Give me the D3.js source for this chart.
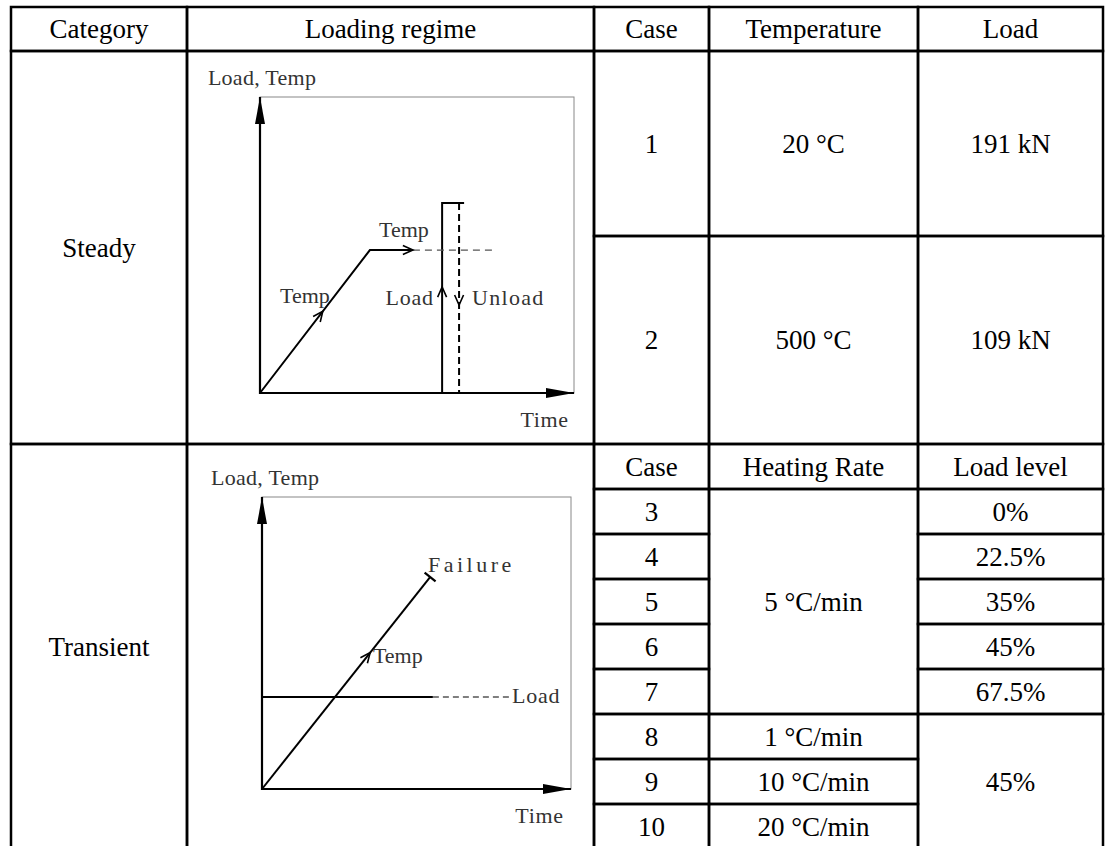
<!DOCTYPE html>
<html>
<head>
<meta charset="utf-8">
<script src="https://cdn.jsdelivr.net/npm/d3@7"></script>
<style>
  body { margin: 0; background: #fff; }
</style>
</head>
<body>
<div id="graphContainer"></div>
<script>
// table content
const headerLabels = ["Category", "Loading regime", "Case", "Temperature", "Load"];
const categories = ["Steady", "Transient"];
const steadyCases = ["1", "2"];
const steadyTemps = ["20 °C", "500 °C"];
const steadyLoads = ["191 kN", "109 kN"];
const transientHeaders = ["Case", "Heating Rate", "Load level"];
const transientCases = ["3", "4", "5", "6", "7", "8", "9", "10"];
const heatingRates = ["5 °C/min", "5 °C/min", "5 °C/min", "5 °C/min", "5 °C/min", "1 °C/min", "10 °C/min", "20 °C/min"];
const loadLevels = ["0%", "22.5%", "35%", "45%", "67.5%", "45%", "45%", "45%"];

// schematic curves, in diagram units (time, load/temp both 0..100)
const steadyTempRamp = [[0, 0], [35, 48.3], [48.7, 48.3]];
const steadyTempHold = [[48.7, 48.3], [74.2, 48.3]];
const steadyLoadPath = [[58, 0], [58, 64.2], [65, 64.2]];
const steadyUnloadPath = [[63.4, 64.2], [63.4, 0]];
// [tip, from]
const steadyArrows = [
  [[20, 27.6], [0, 0]],
  [[48.7, 48.3], [35, 48.3]],
  [[58, 35.8], [58, 0]],
  [[63.4, 29.7], [63.4, 64.2]],
];
const steadyLabels = [
  ["Load, Temp", -16.6, 104, "start"],
  ["Temp", 37.9, 52.7, "start"],
  ["Temp", 6.4, 30.4, "start"],
  ["Load", 55.1, 29.7, "end"],
  ["Unload", 67.5, 29.7, "start"],
  ["Time", 98.1, -11.5, "end"],
];

const transientTempPath = [[0, 0], [54.4, 72.6]];
const transientLoadPath = [[0, 31.5], [55.3, 31.5]];
const transientLoadDash = [[55.3, 31.5], [80.3, 31.5]];
const transientArrows = [[[35, 46.7], [0, 0]]];
const transientLabels = [
  ["Load, Temp", -16.5, 104.1, "start"],
  ["Failure", 53.7, 74.3, "start"],
  ["Temp", 35.9, 43.2, "start"],
  ["Load", 80.9, 29.5, "start"],
  ["Time", 97.4, -11.6, "end"],
];

const width = 1113, height = 846;
const tableFont = "'Liberation Serif', 'Times New Roman', serif";

// column edges and row edges of the table grid
const colX = [11, 187, 594, 709, 918, 1103];
const tableTop = 7, headBottom = 51, steadySplit = 236, transientTop = 444;
const rowH = 45;

const svg = d3
  .select("#graphContainer")
  .append("svg")
  .attr("width", width)
  .attr("height", height)
  .style("background", "#fff");

// build all cells, then draw borders + text
const cells = [];
headerLabels.forEach((t, i) =>
  cells.push({ x0: colX[i], x1: colX[i + 1], y0: tableTop, y1: headBottom, text: t })
);

const transientRow = d3
  .scaleLinear()
  .domain([0, transientCases.length + 1])
  .range([transientTop, transientTop + rowH * (transientCases.length + 1)]);
const tableBottom = transientRow(transientCases.length + 1);

cells.push({ x0: colX[0], x1: colX[1], y0: headBottom, y1: transientTop, text: categories[0] });
cells.push({ x0: colX[0], x1: colX[1], y0: transientTop, y1: tableBottom, text: categories[1] });
cells.push({ x0: colX[1], x1: colX[2], y0: headBottom, y1: transientTop, text: "" });
cells.push({ x0: colX[1], x1: colX[2], y0: transientTop, y1: tableBottom, text: "" });

const steadyRowY = [headBottom, steadySplit, transientTop];
steadyCases.forEach((c, i) => {
  const y0 = steadyRowY[i], y1 = steadyRowY[i + 1];
  cells.push({ x0: colX[2], x1: colX[3], y0, y1, text: c });
  cells.push({ x0: colX[3], x1: colX[4], y0, y1, text: steadyTemps[i] });
  cells.push({ x0: colX[4], x1: colX[5], y0, y1, text: steadyLoads[i] });
});

transientHeaders.forEach((t, i) =>
  cells.push({ x0: colX[i + 2], x1: colX[i + 3], y0: transientRow(0), y1: transientRow(1), text: t })
);

// merge runs of equal consecutive values into one cell
const pushMerged = (values, col) => {
  let start = 0;
  for (let i = 1; i <= values.length; i++) {
    if (i == values.length || values[i] != values[start]) {
      cells.push({
        x0: colX[col], x1: colX[col + 1],
        y0: transientRow(start + 1), y1: transientRow(i + 1),
        text: values[start],
      });
      start = i;
    }
  }
};
transientCases.forEach((c, i) =>
  cells.push({ x0: colX[2], x1: colX[3], y0: transientRow(i + 1), y1: transientRow(i + 2), text: c })
);
pushMerged(heatingRates, 3);
pushMerged(loadLevels, 4);

const cellG = svg.append("g").attr("class", "cells");
cellG
  .selectAll("rect")
  .data(cells)
  .join("rect")
  .attr("x", (d) => d.x0)
  .attr("y", (d) => d.y0)
  .attr("width", (d) => d.x1 - d.x0)
  .attr("height", (d) => d.y1 - d.y0)
  .attr("fill", "none")
  .attr("stroke", "#000")
  .attr("stroke-width", 2.5);

cellG
  .selectAll("text")
  .data(cells.filter((d) => d.text))
  .join("text")
  .attr("x", (d) => (d.x0 + d.x1) / 2)
  .attr("y", (d) => (d.y0 + d.y1) / 2 + 9)
  .attr("text-anchor", "middle")
  .style("font-family", tableFont)
  .style("font-size", "27px")
  .style("fill", "#000")
  .text((d) => d.text);

// schematic drawing inside a "Loading regime" cell
drawDiagram = (frame, spec) => {
  const g = svg.append("g");
  const x = d3.scaleLinear().domain([0, 100]).range([frame.x0, frame.x1]);
  const y = d3.scaleLinear().domain([0, 100]).range([frame.y1, frame.y0]);
  const line = d3.line().x((d) => x(d[0])).y((d) => y(d[1]));

  // light frame
  g.append("rect")
    .attr("x", x(0))
    .attr("y", y(100))
    .attr("width", x(100) - x(0))
    .attr("height", y(0) - y(100))
    .attr("fill", "none")
    .attr("stroke", "#888")
    .attr("stroke-width", 1);

  // axes with filled arrow heads
  g.append("path")
    .attr("d", line([[0, 100], [0, 0], [100, 0]]))
    .attr("fill", "none")
    .attr("stroke", "#000")
    .attr("stroke-width", 2.2);
  const ox = x(0), oy = y(0), tx = x(100), ty = y(100);
  g.append("path")
    .attr("d", `M${ox},${ty} L${ox - 5},${ty + 27} L${ox + 5},${ty + 27} Z`)
    .attr("fill", "#000");
  g.append("path")
    .attr("d", `M${tx},${oy} L${tx - 28},${oy - 5} L${tx - 28},${oy + 5} Z`)
    .attr("fill", "#000");

  spec.solid.forEach((p) =>
    g.append("path")
      .attr("d", line(p))
      .attr("fill", "none")
      .attr("stroke", "#000")
      .attr("stroke-width", 2)
  );
  spec.dashed.forEach(([p, color, w, dash]) =>
    g.append("path")
      .attr("d", line(p))
      .attr("fill", "none")
      .attr("stroke", color)
      .attr("stroke-width", w)
      .attr("stroke-dasharray", dash)
  );

  // open chevron arrows
  spec.arrows.forEach(([tip, from]) => {
    const px = x(tip[0]), py = y(tip[1]);
    let dx = px - x(from[0]), dy = py - y(from[1]);
    const len = Math.hypot(dx, dy);
    dx /= len; dy /= len;
    const L = 11, a = (24 * Math.PI) / 180;
    const arm = (s) => {
      const c = Math.cos(s * a), sn = Math.sin(s * a);
      return [px - L * (dx * c - dy * sn), py - L * (dx * sn + dy * c)];
    };
    const a1 = arm(1), a2 = arm(-1);
    g.append("path")
      .attr("d", `M${a1[0]},${a1[1]} L${px},${py} L${a2[0]},${a2[1]}`)
      .attr("fill", "none")
      .attr("stroke", "#000")
      .attr("stroke-width", 1.6);
  });

  // failure tick at end of the temp line
  if (spec.failure) {
    const [p0, p1] = spec.failure;
    const ex = x(p1[0]), ey = y(p1[1]);
    let dx = ex - x(p0[0]), dy = ey - y(p0[1]);
    const len = Math.hypot(dx, dy);
    const nx = -dy / len, ny = dx / len;
    g.append("line")
      .attr("x1", ex - nx * 7)
      .attr("y1", ey - ny * 7)
      .attr("x2", ex + nx * 7)
      .attr("y2", ey + ny * 7)
      .attr("stroke", "#000")
      .attr("stroke-width", 2.2);
  }

  // SimSun-like half-width labels: widen narrow labels to a fixed advance per char,
  // but never squeeze them
  const isTitle = (d) => d[0] == "Load, Temp";
  g.selectAll("text.lbl")
    .data(spec.labels)
    .join("text")
    .attr("class", "lbl")
    .attr("x", (d) => x(d[1]))
    .attr("y", (d) => y(d[2]))
    .attr("text-anchor", (d) => d[3])
    .style("font-family", tableFont)
    .style("font-size", (d) => (isTitle(d) ? "22px" : "22px"))
    .style("fill", "#333")
    .text((d) => d[0])
    .each(function (d) {
      const target = d[0].length * (isTitle(d) ? 10.8 : 11.9);
      if (this.getComputedTextLength() < target) {
        d3.select(this).attr("textLength", target).attr("lengthAdjust", "spacing");
      }
    });
};

drawDiagram(
  { x0: 260, x1: 574, y0: 97, y1: 393 },
  {
    solid: [steadyTempRamp, steadyLoadPath],
    dashed: [
      [steadyTempHold, "#555", 1.3, "7,5"],
      [steadyUnloadPath, "#000", 2, "7,4"],
    ],
    arrows: steadyArrows,
    labels: steadyLabels,
  }
);

drawDiagram(
  { x0: 262, x1: 571, y0: 497, y1: 789 },
  {
    solid: [transientTempPath, transientLoadPath],
    dashed: [[transientLoadDash, "#555", 1.3, "6,4"]],
    arrows: transientArrows,
    failure: transientTempPath,
    labels: transientLabels,
  }
);
</script>
</body>
</html>
